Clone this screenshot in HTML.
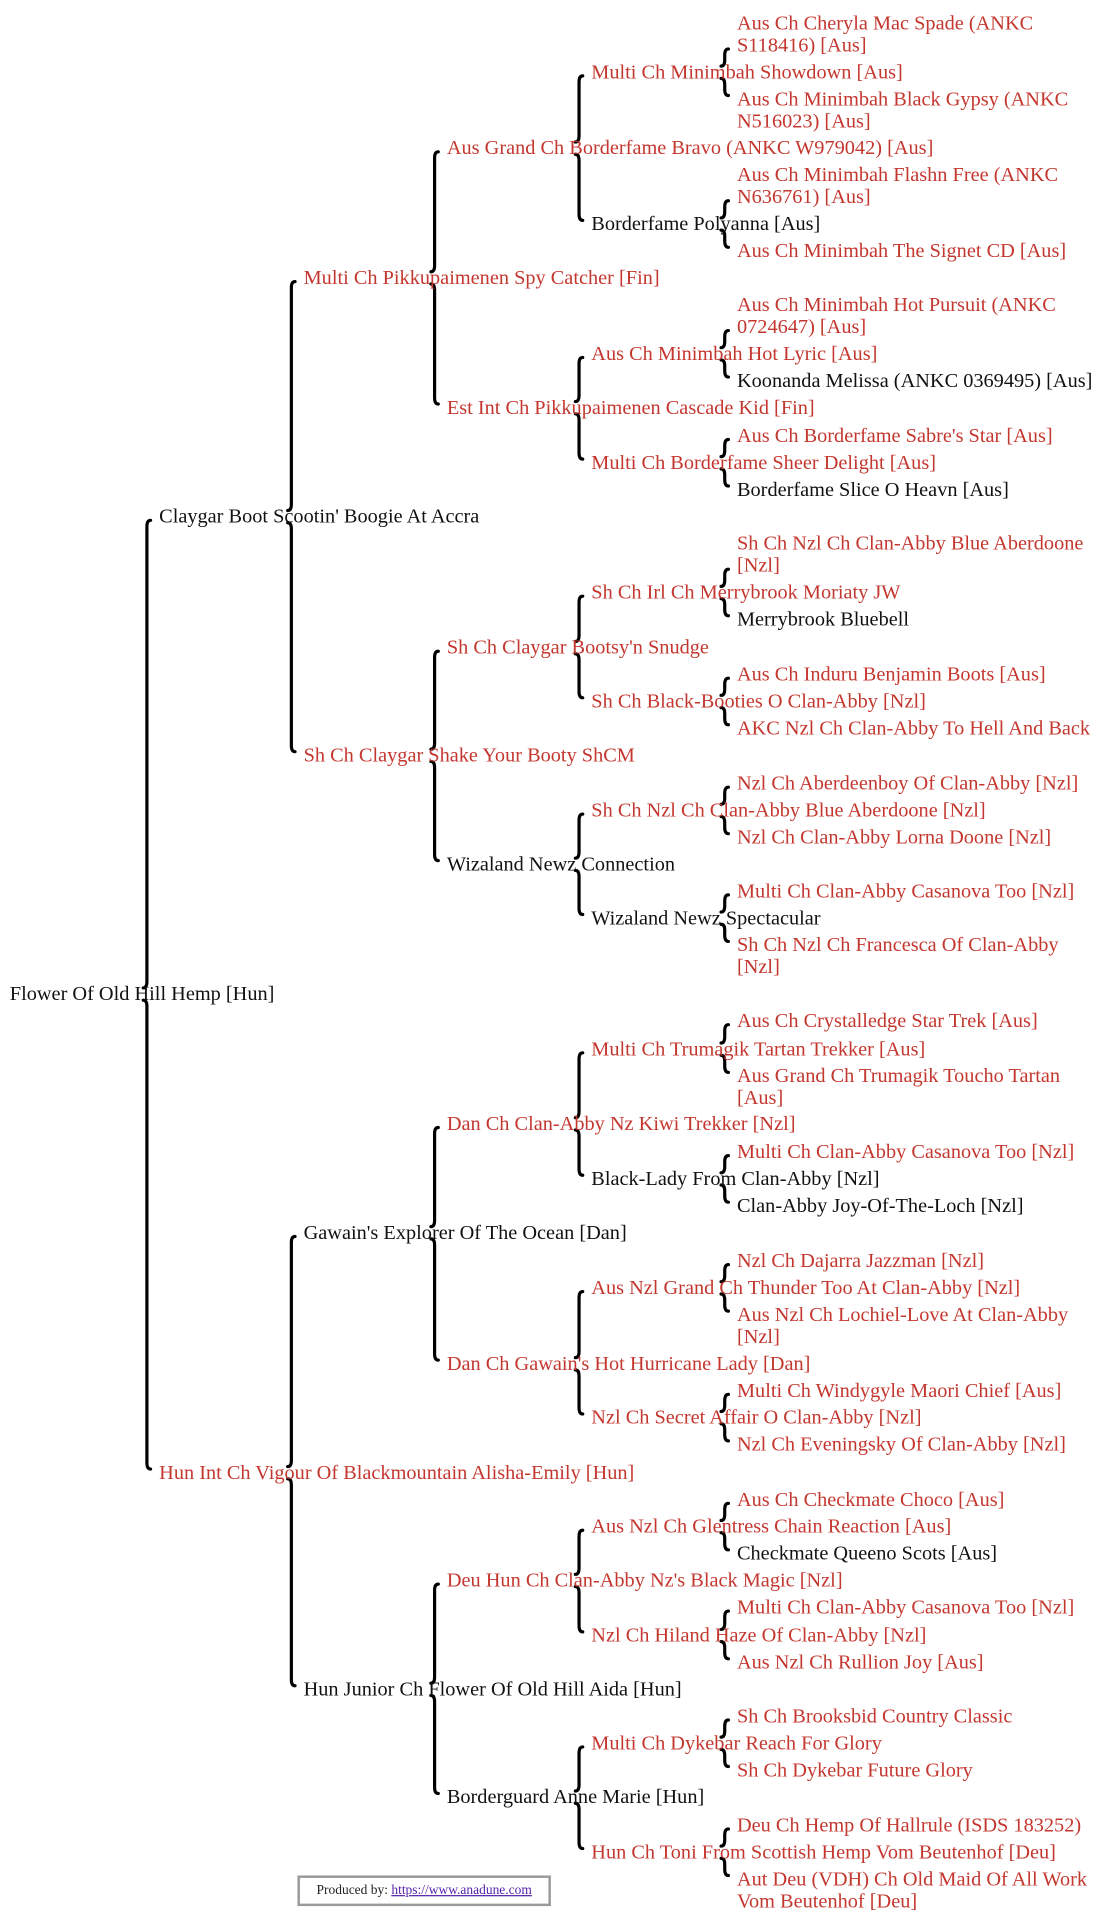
<!DOCTYPE html>
<html><head><meta charset="utf-8">
<style>
html,body{margin:0;padding:0;background:#fff;}
body{width:1114px;height:1920px;overflow:hidden;position:relative;}
#s{position:absolute;left:0;top:0;width:910px;height:1568px;transform:scale(1.2242);transform-origin:0 0;}
.t{position:absolute;font-family:"Liberation Serif",serif;font-size:16.6px;line-height:18px;white-space:nowrap;color:#111;}
.r{color:#c4372f;}
svg{position:absolute;left:0;top:0;}
#f{position:absolute;left:243px;top:1532px;width:203px;height:21px;border:2px solid #999;font-family:"Liberation Serif",serif;font-size:11px;line-height:21px;text-align:center;color:#222;}
#f a{color:#5522aa;text-decoration:underline;}
</style></head><body>
<div id="s">
<svg width="910" height="1568" viewBox="0 0 910 1568" fill="none" stroke="#000" stroke-width="2.6" stroke-linecap="round">
<path d="M595 40 Q592 40 592 45 L592 49 Q592 54 589 54 M589 64 Q592 64 592 69 L592 73 Q592 78 595 78"/>
<path d="M595 164 Q592 164 592 169 L592 173 Q592 178 589 178 M589 188 Q592 188 592 193 L592 197 Q592 202 595 202"/>
<path d="M595 270 Q592 270 592 275 L592 279 Q592 284 589 284 M589 294 Q592 294 592 299 L592 303 Q592 308 595 308"/>
<path d="M595 359 Q592 359 592 364 L592 368 Q592 373 589 373 M589 383 Q592 383 592 388 L592 392 Q592 397 595 397"/>
<path d="M595 465 Q592 465 592 470 L592 474 Q592 479 589 479 M589 489 Q592 489 592 494 L592 498 Q592 503 595 503"/>
<path d="M595 554 Q592 554 592 559 L592 563 Q592 568 589 568 M589 578 Q592 578 592 583 L592 587 Q592 592 595 592"/>
<path d="M595 643 Q592 643 592 648 L592 652 Q592 657 589 657 M589 667 Q592 667 592 672 L592 676 Q592 681 595 681"/>
<path d="M595 731 Q592 731 592 736 L592 740 Q592 745 589 745 M589 755 Q592 755 592 760 L592 764 Q592 769 595 769"/>
<path d="M595 837 Q592 837 592 842 L592 847 Q592 852 589 852 M589 862 Q592 862 592 867 L592 871 Q592 876 595 876"/>
<path d="M595 944 Q592 944 592 949 L592 953 Q592 958 589 958 M589 968 Q592 968 592 973 L592 977 Q592 982 595 982"/>
<path d="M595 1033 Q592 1033 592 1038 L592 1042 Q592 1047 589 1047 M589 1057 Q592 1057 592 1062 L592 1066 Q592 1071 595 1071"/>
<path d="M595 1139 Q592 1139 592 1144 L592 1148 Q592 1153 589 1153 M589 1163 Q592 1163 592 1168 L592 1172 Q592 1177 595 1177"/>
<path d="M595 1228 Q592 1228 592 1233 L592 1237 Q592 1242 589 1242 M589 1252 Q592 1252 592 1257 L592 1261 Q592 1266 595 1266"/>
<path d="M595 1316 Q592 1316 592 1321 L592 1326 Q592 1331 589 1331 M589 1341 Q592 1341 592 1346 L592 1350 Q592 1355 595 1355"/>
<path d="M595 1405 Q592 1405 592 1410 L592 1414 Q592 1419 589 1419 M589 1429 Q592 1429 592 1434 L592 1438 Q592 1443 595 1443"/>
<path d="M595 1494 Q592 1494 592 1499 L592 1503 Q592 1508 589 1508 M589 1518 Q592 1518 592 1523 L592 1527 Q592 1532 595 1532"/>
<path d="M476 62 Q473 62 473 67 L473 111 Q473 116 470 116 M470 126 Q473 126 473 131 L473 175 Q473 180 476 180"/>
<path d="M476 292 Q473 292 473 297 L473 323 Q473 328 470 328 M470 338 Q473 338 473 343 L473 370 Q473 375 476 375"/>
<path d="M476 487 Q473 487 473 492 L473 519 Q473 524 470 524 M470 534 Q473 534 473 539 L473 565 Q473 570 476 570"/>
<path d="M476 665 Q473 665 473 670 L473 696 Q473 701 470 701 M470 711 Q473 711 473 716 L473 742 Q473 747 476 747"/>
<path d="M476 860 Q473 860 473 865 L473 908 Q473 913 470 913 M470 923 Q473 923 473 928 L473 955 Q473 960 476 960"/>
<path d="M476 1055 Q473 1055 473 1060 L473 1104 Q473 1109 470 1109 M470 1119 Q473 1119 473 1124 L473 1150 Q473 1155 476 1155"/>
<path d="M476 1250 Q473 1250 473 1255 L473 1281 Q473 1286 470 1286 M470 1296 Q473 1296 473 1301 L473 1328 Q473 1333 476 1333"/>
<path d="M476 1427 Q473 1427 473 1432 L473 1458 Q473 1463 470 1463 M470 1473 Q473 1473 473 1478 L473 1505 Q473 1510 476 1510"/>
<path d="M358 124 Q355 124 355 129 L355 217 Q355 222 352 222 M352 232 Q355 232 355 237 L355 325 Q355 330 358 330"/>
<path d="M358 532 Q355 532 355 537 L355 607 Q355 612 352 612 M352 622 Q355 622 355 627 L355 698 Q355 703 358 703"/>
<path d="M358 921 Q355 921 355 926 L355 997 Q355 1002 352 1002 M352 1012 Q355 1012 355 1017 L355 1106 Q355 1111 358 1111"/>
<path d="M358 1294 Q355 1294 355 1299 L355 1370 Q355 1375 352 1375 M352 1385 Q355 1385 355 1390 L355 1460 Q355 1465 358 1465"/>
<path d="M241 230 Q238 230 238 235 L238 412 Q238 417 235 417 M235 427 Q238 427 238 432 L238 609 Q238 614 241 614"/>
<path d="M241 1010 Q238 1010 238 1015 L238 1193 Q238 1198 235 1198 M235 1208 Q238 1208 238 1213 L238 1372 Q238 1377 241 1377"/>
<path d="M123 425 Q120 425 120 430 L120 802 Q120 807 117 807 M117 817 Q120 817 120 822 L120 1195 Q120 1200 123 1200"/>
</svg>

<div class="t" style="left:8px;top:803px">Flower Of Old Hill Hemp [Hun]</div>

<div class="t" style="left:130px;top:413px">Claygar Boot Scootin' Boogie At Accra</div>
<div class="t r" style="left:130px;top:1194px">Hun Int Ch Vigour Of Blackmountain Alisha-Emily [Hun]</div>

<div class="t r" style="left:248px;top:218px">Multi Ch Pikkupaimenen Spy Catcher [Fin]</div>
<div class="t r" style="left:248px;top:608px">Sh Ch Claygar Shake Your Booty ShCM</div>
<div class="t" style="left:248px;top:998px">Gawain's Explorer Of The Ocean [Dan]</div>
<div class="t" style="left:248px;top:1371px">Hun Junior Ch Flower Of Old Hill Aida [Hun]</div>

<div class="t r" style="left:365px;top:112px">Aus Grand Ch Borderfame Bravo (ANKC W979042) [Aus]</div>
<div class="t r" style="left:365px;top:324px">Est Int Ch Pikkupaimenen Cascade Kid [Fin]</div>
<div class="t r" style="left:365px;top:520px">Sh Ch Claygar Bootsy'n Snudge</div>
<div class="t" style="left:365px;top:697px">Wizaland Newz Connection</div>
<div class="t r" style="left:365px;top:909px">Dan Ch Clan-Abby Nz Kiwi Trekker [Nzl]</div>
<div class="t r" style="left:365px;top:1105px">Dan Ch Gawain's Hot Hurricane Lady [Dan]</div>
<div class="t r" style="left:365px;top:1282px">Deu Hun Ch Clan-Abby Nz's Black Magic [Nzl]</div>
<div class="t" style="left:365px;top:1459px">Borderguard Anne Marie [Hun]</div>

<div class="t r" style="left:483px;top:50px">Multi Ch Minimbah Showdown [Aus]</div>
<div class="t" style="left:483px;top:174px">Borderfame Polyanna [Aus]</div>
<div class="t r" style="left:483px;top:280px">Aus Ch Minimbah Hot Lyric [Aus]</div>
<div class="t r" style="left:483px;top:369px">Multi Ch Borderfame Sheer Delight [Aus]</div>
<div class="t r" style="left:483px;top:475px">Sh Ch Irl Ch Merrybrook Moriaty JW</div>
<div class="t r" style="left:483px;top:564px">Sh Ch Black-Booties O Clan-Abby [Nzl]</div>
<div class="t r" style="left:483px;top:653px">Sh Ch Nzl Ch Clan-Abby Blue Aberdoone [Nzl]</div>
<div class="t" style="left:483px;top:741px">Wizaland Newz Spectacular</div>
<div class="t r" style="left:483px;top:848px">Multi Ch Trumagik Tartan Trekker [Aus]</div>
<div class="t" style="left:483px;top:954px">Black-Lady From Clan-Abby [Nzl]</div>
<div class="t r" style="left:483px;top:1043px">Aus Nzl Grand Ch Thunder Too At Clan-Abby [Nzl]</div>
<div class="t r" style="left:483px;top:1149px">Nzl Ch Secret Affair O Clan-Abby [Nzl]</div>
<div class="t r" style="left:483px;top:1238px">Aus Nzl Ch Glentress Chain Reaction [Aus]</div>
<div class="t r" style="left:483px;top:1327px">Nzl Ch Hiland Haze Of Clan-Abby [Nzl]</div>
<div class="t r" style="left:483px;top:1415px">Multi Ch Dykebar Reach For Glory</div>
<div class="t r" style="left:483px;top:1504px">Hun Ch Toni From Scottish Hemp Vom Beutenhof [Deu]</div>

<div class="t r" style="left:602px;top:10px">Aus Ch Cheryla Mac Spade (ANKC<br>S118416) [Aus]</div>
<div class="t r" style="left:602px;top:72px">Aus Ch Minimbah Black Gypsy (ANKC<br>N516023) [Aus]</div>
<div class="t r" style="left:602px;top:134px">Aus Ch Minimbah Flashn Free (ANKC<br>N636761) [Aus]</div>
<div class="t r" style="left:602px;top:196px">Aus Ch Minimbah The Signet CD [Aus]</div>
<div class="t r" style="left:602px;top:240px">Aus Ch Minimbah Hot Pursuit (ANKC<br>0724647) [Aus]</div>
<div class="t" style="left:602px;top:302px">Koonanda Melissa (ANKC 0369495) [Aus]</div>
<div class="t r" style="left:602px;top:347px">Aus Ch Borderfame Sabre's Star [Aus]</div>
<div class="t" style="left:602px;top:391px">Borderfame Slice O Heavn [Aus]</div>
<div class="t r" style="left:602px;top:435px">Sh Ch Nzl Ch Clan-Abby Blue Aberdoone<br>[Nzl]</div>
<div class="t" style="left:602px;top:497px">Merrybrook Bluebell</div>
<div class="t r" style="left:602px;top:542px">Aus Ch Induru Benjamin Boots [Aus]</div>
<div class="t r" style="left:602px;top:586px">AKC Nzl Ch Clan-Abby To Hell And Back</div>
<div class="t r" style="left:602px;top:631px">Nzl Ch Aberdeenboy Of Clan-Abby [Nzl]</div>
<div class="t r" style="left:602px;top:675px">Nzl Ch Clan-Abby Lorna Doone [Nzl]</div>
<div class="t r" style="left:602px;top:719px">Multi Ch Clan-Abby Casanova Too [Nzl]</div>
<div class="t r" style="left:602px;top:763px">Sh Ch Nzl Ch Francesca Of Clan-Abby<br>[Nzl]</div>
<div class="t r" style="left:602px;top:825px">Aus Ch Crystalledge Star Trek [Aus]</div>
<div class="t r" style="left:602px;top:870px">Aus Grand Ch Trumagik Toucho Tartan<br>[Aus]</div>
<div class="t r" style="left:602px;top:932px">Multi Ch Clan-Abby Casanova Too [Nzl]</div>
<div class="t" style="left:602px;top:976px">Clan-Abby Joy-Of-The-Loch [Nzl]</div>
<div class="t r" style="left:602px;top:1021px">Nzl Ch Dajarra Jazzman [Nzl]</div>
<div class="t r" style="left:602px;top:1065px">Aus Nzl Ch Lochiel-Love At Clan-Abby<br>[Nzl]</div>
<div class="t r" style="left:602px;top:1127px">Multi Ch Windygyle Maori Chief [Aus]</div>
<div class="t r" style="left:602px;top:1171px">Nzl Ch Eveningsky Of Clan-Abby [Nzl]</div>
<div class="t r" style="left:602px;top:1216px">Aus Ch Checkmate Choco [Aus]</div>
<div class="t" style="left:602px;top:1260px">Checkmate Queeno Scots [Aus]</div>
<div class="t r" style="left:602px;top:1304px">Multi Ch Clan-Abby Casanova Too [Nzl]</div>
<div class="t r" style="left:602px;top:1349px">Aus Nzl Ch Rullion Joy [Aus]</div>
<div class="t r" style="left:602px;top:1393px">Sh Ch Brooksbid Country Classic</div>
<div class="t r" style="left:602px;top:1437px">Sh Ch Dykebar Future Glory</div>
<div class="t r" style="left:602px;top:1482px">Deu Ch Hemp Of Hallrule (ISDS 183252)</div>
<div class="t r" style="left:602px;top:1526px">Aut Deu (VDH) Ch Old Maid Of All Work<br>Vom Beutenhof [Deu]</div>

<div id="f">Produced by: <a>https://www.anadune.com</a></div>
</div>
</body></html>
